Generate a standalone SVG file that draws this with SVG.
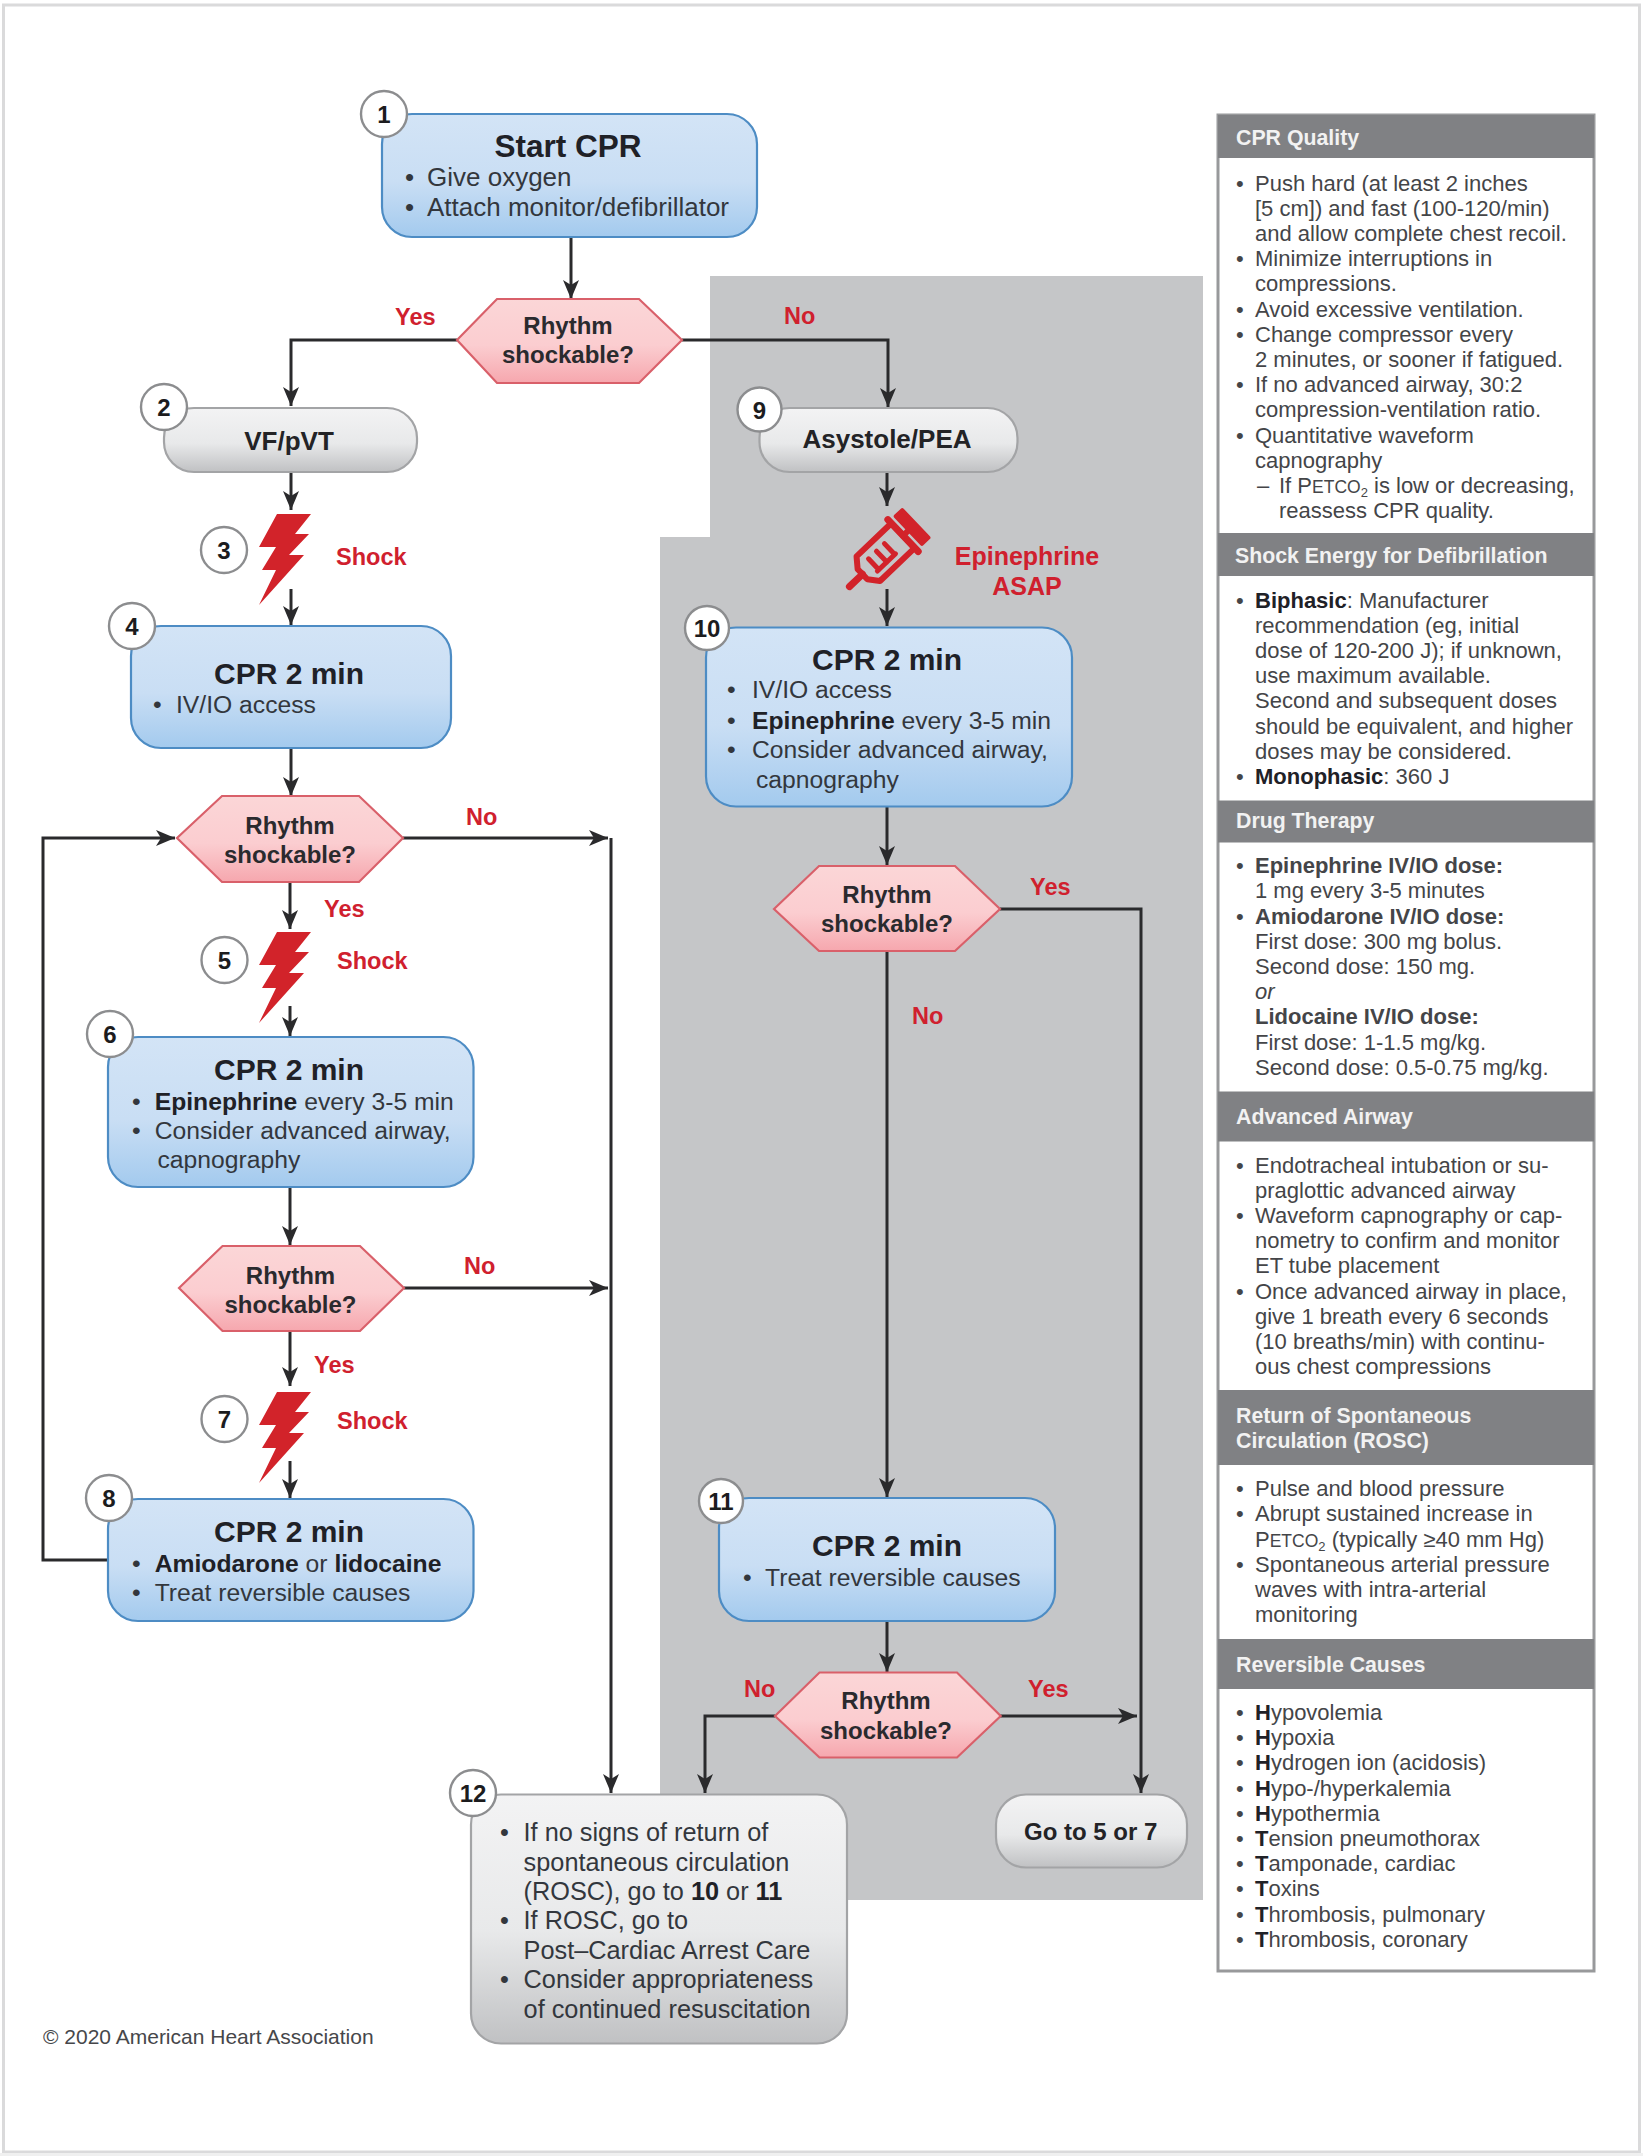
<svg xmlns="http://www.w3.org/2000/svg" width="1643" height="2156" viewBox="0 0 1643 2156">
<style>
text{font-family:"Liberation Sans",Arial,sans-serif}
.conn{fill:none;stroke:#2a2a2c;stroke-width:3}
.arr{marker-end:url(#ah)}
.blue{fill:url(#gb);stroke:#4d8cc4;stroke-width:2.2}
.gray{fill:url(#gg);stroke:#a3a4a6;stroke-width:2.2}
.pink{fill:url(#gp);stroke:#d9606a;stroke-width:2.2}
.num{fill:#fff;stroke:#8c8d8f;stroke-width:2.4}
.n{font-size:24px;font-weight:700;fill:#1c1c1e;text-anchor:middle}
.t{font-size:30px;font-weight:700;fill:#1f2127;text-anchor:middle}
.b{font-size:24.7px;fill:#33373d}
.bd{font-weight:700;fill:#1f2127}
.d{font-size:24px;font-weight:700;fill:#2a2a2e;text-anchor:middle}
.g{font-size:26px;font-weight:700;fill:#232326;text-anchor:middle}
.r{font-size:23.5px;font-weight:700;fill:#d0202e}
.h{font-size:21.3px;font-weight:700;fill:#f2f2f2}
.s{font-size:22px;fill:#444548}
.hb{fill:#808184}
</style>
<defs>
<linearGradient id="gb" x1="0" y1="0" x2="0" y2="1"><stop offset="0" stop-color="#d3e4f6"/><stop offset=".55" stop-color="#c9def4"/><stop offset="1" stop-color="#a3caee"/></linearGradient>
<linearGradient id="gg" x1="0" y1="0" x2="0" y2="1"><stop offset="0" stop-color="#f3f3f4"/><stop offset=".55" stop-color="#e8e9ea"/><stop offset="1" stop-color="#c0c1c3"/></linearGradient>
<linearGradient id="gp" x1="0" y1="0" x2="0" y2="1"><stop offset="0" stop-color="#fbd6d7"/><stop offset=".55" stop-color="#fbcdd0"/><stop offset="1" stop-color="#f6a7ae"/></linearGradient>
<marker id="ah" markerUnits="userSpaceOnUse" markerWidth="20" markerHeight="18" refX="19" refY="8" orient="auto"><path d="M0,0L19,8L0,16L5,8z" fill="#2a2a2c"/></marker>
<polygon id="bolt" points="18,0 52,0 36,20 50,20 30,41 45,41 0,91 17,56 3,56 17,33 0,33" fill="#d2232a"/>
</defs>
<rect width="1643" height="2156" fill="#fff"/>
<rect x="3.500" y="5" width="1636" height="2147" fill="#fff" stroke="#dadadb" stroke-width="3"/>
<rect x="0" y="2153" width="1643" height="3" fill="#f0f0f0"/>
<polygon id="region" points="710,276 1203,276 1203,1900 835,1900 835,1810 660,1810 660,537 710,537" fill="#c5c6c8"/>

<g id="connectors">
<path class="conn arr" d="M571,237V299"/>
<path class="conn arr" d="M457,340H291V406"/>
<path class="conn arr" d="M682,340H888V407"/>
<path class="conn arr" d="M291,472V510"/>
<path class="conn arr" d="M291,589V625"/>
<path class="conn arr" d="M291,748V796"/>
<path class="conn arr" d="M403,838H608"/>
<path class="conn arr" d="M611,838V1793"/>
<path class="conn arr" d="M108,1560H43V838H175"/>
<path class="conn arr" d="M290,882V929"/>
<path class="conn arr" d="M290,1006V1036"/>
<path class="conn arr" d="M290,1187V1245"/>
<path class="conn arr" d="M404,1288H608"/>
<path class="conn arr" d="M290,1331V1386"/>
<path class="conn arr" d="M290,1461V1498"/>
<path class="conn arr" d="M887,472V506"/>
<path class="conn arr" d="M887,589V626"/>
<path class="conn arr" d="M887,806V865"/>
<path class="conn arr" d="M1000,909H1141V1793"/>
<path class="conn arr" d="M887,951V1497"/>
<path class="conn arr" d="M887,1621V1672"/>
<path class="conn arr" d="M775,1716H705V1793"/>
<path class="conn arr" d="M1000,1716H1137"/>
</g>

<g id="node1"><rect class="blue" x="382" y="114" width="375" height="123" rx="30"/><circle class="num" cx="384" cy="114" r="23"/><text class="n" x="384" y="123">1</text>
<text class="t" x="568" y="157" style="font-size:31.500px">Start CPR</text><text class="b" x="405" y="186" style="font-size:26px">•</text><text class="b" x="427" y="186" style="font-size:26px">Give oxygen</text><text class="b" x="405" y="216" style="font-size:26px">•</text><text class="b" x="427" y="216" style="font-size:26px">Attach monitor/defibrillator</text></g>

<g id="dec1"><polygon class="pink" points="457,340 497,299 639,299 682,340 639,383 497,383"/><text class="d" x="568" y="334">Rhythm</text><text class="d" x="568" y="363">shockable?</text></g>
<text class="r" x="395" y="324.500">Yes</text>
<text class="r" x="784" y="324">No</text>

<g id="node2"><rect class="gray" x="164" y="408" width="253" height="64" rx="30"/><circle class="num" cx="164" cy="407" r="23"/><text class="n" x="164" y="416">2</text><text class="g" x="289" y="450">VF/pVT</text></g>

<g id="shock3"><use href="#bolt" x="259" y="514"/><circle class="num" cx="224" cy="550" r="23"/><text class="n" x="224" y="559">3</text><text class="r" x="336" y="565">Shock</text></g>

<g id="node4"><rect class="blue" x="131" y="626" width="320" height="122" rx="30"/><circle class="num" cx="132" cy="626" r="23"/><text class="n" x="132" y="635">4</text><text class="t" x="289" y="684">CPR 2 min</text><text class="b" x="153" y="713">•</text><text class="b" x="176" y="713">IV/IO access</text></g>

<g id="dec2"><polygon class="pink" points="177,838 222,796 359,796 403,838 359,882 222,882"/><text class="d" x="290" y="834">Rhythm</text><text class="d" x="290" y="863">shockable?</text></g>
<text class="r" x="466" y="825">No</text>
<text class="r" x="324" y="917">Yes</text>

<g id="shock5"><use href="#bolt" x="259" y="932"/><circle class="num" cx="224.500" cy="960" r="23"/><text class="n" x="224.500" y="969">5</text><text class="r" x="337" y="969">Shock</text></g>

<g id="node6"><rect class="blue" x="108" y="1037" width="365.500" height="150" rx="30"/><circle class="num" cx="110" cy="1034" r="23"/><text class="n" x="110" y="1043">6</text><text class="t" x="289" y="1080">CPR 2 min</text>
<text class="b" x="132" y="1110">•</text><text class="b" x="154.700" y="1110"><tspan class="bd">Epinephrine</tspan> every 3-5 min</text>
<text class="b" x="132" y="1139">•</text><text class="b" x="154.700" y="1139">Consider advanced airway,</text><text class="b" x="157.500" y="1168">capnography</text></g>

<g id="dec3"><polygon class="pink" points="179,1288 222.500,1246 360,1246 404,1288 360,1331 222.500,1331"/><text class="d" x="290.500" y="1284">Rhythm</text><text class="d" x="290.500" y="1313">shockable?</text></g>
<text class="r" x="464" y="1274">No</text>
<text class="r" x="314" y="1373">Yes</text>

<g id="shock7"><use href="#bolt" x="259" y="1392"/><circle class="num" cx="224.500" cy="1419" r="23"/><text class="n" x="224.500" y="1428">7</text><text class="r" x="337" y="1429">Shock</text></g>

<g id="node8"><rect class="blue" x="108" y="1499" width="365.500" height="122" rx="30"/><circle class="num" cx="109" cy="1498" r="23"/><text class="n" x="109" y="1507">8</text><text class="t" x="289" y="1542">CPR 2 min</text>
<text class="b" x="132" y="1572">•</text><text class="b" x="154.700" y="1572"><tspan class="bd">Amiodarone</tspan> or <tspan class="bd">lidocaine</tspan></text>
<text class="b" x="132" y="1601">•</text><text class="b" x="154.700" y="1601">Treat reversible causes</text></g>

<g id="node9"><rect class="gray" x="759.500" y="408" width="258" height="64" rx="30"/><circle class="num" cx="759.500" cy="409.500" r="22"/><text class="n" x="759.500" y="418.500">9</text><text class="g" x="887" y="448">Asystole/PEA</text></g>

<g id="syringe" transform="translate(848,588) rotate(-43.600)" fill="none" stroke="#d2232a" stroke-linecap="round" stroke-linejoin="round">
<path d="M2,0H20" stroke-width="7"/>
<path d="M20,-7L28,-17H76V17H28L20,7Z" stroke-width="6"/>
<path d="M76,-22V22" stroke-width="7"/>
<path d="M76,0H84" stroke-width="6"/>
<rect x="84" y="-19" width="9" height="38" fill="#d2232a" stroke-width="4"/>
<path d="M33,8H58M35,8V-7M46,8V-7M57,8V-7" stroke-width="5"/>
</g>
<text class="r" x="1027" y="565" style="font-size:25px;text-anchor:middle">Epinephrine</text>
<text class="r" x="1027" y="595" style="font-size:25px;text-anchor:middle">ASAP</text>

<g id="node10"><rect class="blue" x="706" y="627.500" width="366" height="179" rx="30"/><circle class="num" cx="707" cy="628" r="22"/><text class="n" x="707" y="637">10</text><text class="t" x="887" y="670">CPR 2 min</text>
<text class="b" x="727" y="698">•</text><text class="b" x="752" y="698">IV/IO access</text>
<text class="b" x="727" y="728.500">•</text><text class="b" x="752" y="728.500"><tspan class="bd">Epinephrine</tspan> every 3-5 min</text>
<text class="b" x="727" y="758">•</text><text class="b" x="752" y="758">Consider advanced airway,</text><text class="b" x="756" y="787.500">capnography</text></g>

<g id="dec4"><polygon class="pink" points="774,909 819,866 955,866 1000,909 955,951 819,951"/><text class="d" x="887" y="903">Rhythm</text><text class="d" x="887" y="932">shockable?</text></g>
<text class="r" x="1030" y="895">Yes</text>
<text class="r" x="912" y="1024">No</text>

<g id="node11"><rect class="blue" x="719" y="1498" width="336" height="123" rx="30"/><circle class="num" cx="721" cy="1501" r="22"/><text class="n" x="721" y="1510">11</text><text class="t" x="887" y="1556">CPR 2 min</text><text class="b" x="743" y="1586">•</text><text class="b" x="765" y="1586">Treat reversible causes</text></g>

<g id="dec5"><polygon class="pink" points="775,1716 819.500,1672.500 957,1672.500 1000.700,1716 957,1757.500 819.500,1757.500"/><text class="d" x="886" y="1709">Rhythm</text><text class="d" x="886" y="1739">shockable?</text></g>
<text class="r" x="744" y="1697">No</text>
<text class="r" x="1028" y="1697">Yes</text>

<g id="node12"><rect class="gray" x="471" y="1794.500" width="376" height="249" rx="30"/><circle class="num" cx="473" cy="1793" r="23"/><text class="n" x="473" y="1802">12</text>
<text class="b" x="500" y="1841" style="font-size:25.300px">•</text><text class="b" x="523.600" y="1841" style="font-size:25.300px">If no signs of return of</text>
<text class="b" x="523.600" y="1870.500" style="font-size:25.300px">spontaneous circulation</text>
<text class="b" x="523.600" y="1900" style="font-size:25.300px">(ROSC), go to <tspan class="bd">10</tspan> or <tspan class="bd">11</tspan></text>
<text class="b" x="500" y="1929" style="font-size:25.300px">•</text><text class="b" x="523.600" y="1929" style="font-size:25.300px">If ROSC, go to</text>
<text class="b" x="523.600" y="1958.500" style="font-size:25.300px">Post–Cardiac Arrest Care</text>
<text class="b" x="500" y="1988" style="font-size:25.300px">•</text><text class="b" x="523.600" y="1988" style="font-size:25.300px">Consider appropriateness</text>
<text class="b" x="523.600" y="2018" style="font-size:25.300px">of continued resuscitation</text></g>

<g id="goto"><rect class="gray" x="996" y="1794.500" width="191" height="73" rx="30"/><text class="g" x="1090.700" y="1840" style="font-size:24px">Go to 5 or 7</text></g>

<text id="copyright" x="43" y="2044" style="font-size:21px;fill:#46474a">© 2020 American Heart Association</text>

<g id="sidebar">
<rect x="1218" y="115" width="376" height="1856" fill="#fff" stroke="#98999b" stroke-width="3"/>
<rect class="hb" x="1218" y="115" width="376" height="43"/>
<text class="h" x="1236" y="145">CPR Quality</text>
<text class="s" x="1236" y="190.600">•</text><text class="s" x="1255" y="190.600">Push hard (at least 2 inches</text>
<text class="s" x="1255" y="215.800">[5 cm]) and fast (100-120/min)</text>
<text class="s" x="1255" y="241">and allow complete chest recoil.</text>
<text class="s" x="1236" y="266.200">•</text><text class="s" x="1255" y="266.200">Minimize interruptions in</text>
<text class="s" x="1255" y="291.400">compressions.</text>
<text class="s" x="1236" y="316.600">•</text><text class="s" x="1255" y="316.600">Avoid excessive ventilation.</text>
<text class="s" x="1236" y="341.800">•</text><text class="s" x="1255" y="341.800">Change compressor every</text>
<text class="s" x="1255" y="367">2 minutes, or sooner if fatigued.</text>
<text class="s" x="1236" y="392.200">•</text><text class="s" x="1255" y="392.200">If no advanced airway, 30:2</text>
<text class="s" x="1255" y="417.400">compression-ventilation ratio.</text>
<text class="s" x="1236" y="442.600">•</text><text class="s" x="1255" y="442.600">Quantitative waveform</text>
<text class="s" x="1255" y="467.800">capnography</text>
<text class="s" x="1257" y="493">–</text><text class="s" x="1279" y="493">If P<tspan font-size="17.500">ETCO</tspan><tspan font-size="13" dy="4">2</tspan><tspan dy="-4"> is low or decreasing,</tspan></text>
<text class="s" x="1279" y="518.200">reassess CPR quality.</text>

<rect class="hb" x="1218" y="533" width="376" height="43"/>
<text class="h" x="1235" y="563">Shock Energy for Defibrillation</text>
<text class="s" x="1236" y="607.600">•</text><text class="s" x="1255" y="607.600"><tspan class="bd">Biphasic</tspan>: Manufacturer</text>
<text class="s" x="1255" y="632.800">recommendation (eg, initial</text>
<text class="s" x="1255" y="658">dose of 120-200 J); if unknown,</text>
<text class="s" x="1255" y="683.200">use maximum available.</text>
<text class="s" x="1255" y="708.400">Second and subsequent doses</text>
<text class="s" x="1255" y="733.600">should be equivalent, and higher</text>
<text class="s" x="1255" y="758.800">doses may be considered.</text>
<text class="s" x="1236" y="784">•</text><text class="s" x="1255" y="784"><tspan class="bd">Monophasic</tspan>: 360 J</text>

<rect class="hb" x="1218" y="800.500" width="376" height="42"/>
<text class="h" x="1236" y="828">Drug Therapy</text>
<text class="s" x="1236" y="873">•</text><text class="s bd" x="1255" y="873">Epinephrine IV/IO dose:</text>
<text class="s" x="1255" y="898.400">1 mg every 3-5 minutes</text>
<text class="s" x="1236" y="923.600">•</text><text class="s bd" x="1255" y="923.600">Amiodarone IV/IO dose:</text>
<text class="s" x="1255" y="948.800">First dose: 300 mg bolus.</text>
<text class="s" x="1255" y="974">Second dose: 150 mg.</text>
<text class="s" x="1255" y="999.200" font-style="italic">or</text>
<text class="s bd" x="1255" y="1024.400">Lidocaine IV/IO dose:</text>
<text class="s" x="1255" y="1049.600">First dose: 1-1.5 mg/kg.</text>
<text class="s" x="1255" y="1074.800">Second dose: 0.5-0.75 mg/kg.</text>

<rect class="hb" x="1218" y="1091.500" width="376" height="50"/>
<text class="h" x="1236" y="1124">Advanced Airway</text>
<text class="s" x="1236" y="1172.600">•</text><text class="s" x="1255" y="1172.600">Endotracheal intubation or su-</text>
<text class="s" x="1255" y="1197.800">praglottic advanced airway</text>
<text class="s" x="1236" y="1223">•</text><text class="s" x="1255" y="1223">Waveform capnography or cap-</text>
<text class="s" x="1255" y="1248.200">nometry to confirm and monitor</text>
<text class="s" x="1255" y="1273.400">ET tube placement</text>
<text class="s" x="1236" y="1298.600">•</text><text class="s" x="1255" y="1298.600">Once advanced airway in place,</text>
<text class="s" x="1255" y="1323.800">give 1 breath every 6 seconds</text>
<text class="s" x="1255" y="1349">(10 breaths/min) with continu-</text>
<text class="s" x="1255" y="1374.200">ous chest compressions</text>

<rect class="hb" x="1218" y="1390" width="376" height="75"/>
<text class="h" x="1236" y="1423">Return of Spontaneous</text>
<text class="h" x="1236" y="1448">Circulation (ROSC)</text>
<text class="s" x="1236" y="1496">•</text><text class="s" x="1255" y="1496">Pulse and blood pressure</text>
<text class="s" x="1236" y="1521.400">•</text><text class="s" x="1255" y="1521.400">Abrupt sustained increase in</text>
<text class="s" x="1255" y="1546.600">P<tspan font-size="17.500">ETCO</tspan><tspan font-size="13" dy="4">2</tspan><tspan dy="-4"> (typically ≥40 mm Hg)</tspan></text>
<text class="s" x="1236" y="1571.800">•</text><text class="s" x="1255" y="1571.800">Spontaneous arterial pressure</text>
<text class="s" x="1255" y="1597">waves with intra-arterial</text>
<text class="s" x="1255" y="1622.200">monitoring</text>

<rect class="hb" x="1218" y="1639" width="376" height="50"/>
<text class="h" x="1236" y="1671.500">Reversible Causes</text>
<text class="s" x="1236" y="1720">•</text><text class="s" x="1255" y="1720"><tspan class="bd">H</tspan>ypovolemia</text>
<text class="s" x="1236" y="1745.200">•</text><text class="s" x="1255" y="1745.200"><tspan class="bd">H</tspan>ypoxia</text>
<text class="s" x="1236" y="1770.400">•</text><text class="s" x="1255" y="1770.400"><tspan class="bd">H</tspan>ydrogen ion (acidosis)</text>
<text class="s" x="1236" y="1795.600">•</text><text class="s" x="1255" y="1795.600"><tspan class="bd">H</tspan>ypo-/hyperkalemia</text>
<text class="s" x="1236" y="1820.800">•</text><text class="s" x="1255" y="1820.800"><tspan class="bd">H</tspan>ypothermia</text>
<text class="s" x="1236" y="1846">•</text><text class="s" x="1255" y="1846"><tspan class="bd">T</tspan>ension pneumothorax</text>
<text class="s" x="1236" y="1871.200">•</text><text class="s" x="1255" y="1871.200"><tspan class="bd">T</tspan>amponade, cardiac</text>
<text class="s" x="1236" y="1896.400">•</text><text class="s" x="1255" y="1896.400"><tspan class="bd">T</tspan>oxins</text>
<text class="s" x="1236" y="1921.600">•</text><text class="s" x="1255" y="1921.600"><tspan class="bd">T</tspan>hrombosis, pulmonary</text>
<text class="s" x="1236" y="1946.800">•</text><text class="s" x="1255" y="1946.800"><tspan class="bd">T</tspan>hrombosis, coronary</text>
</g>
</svg>
